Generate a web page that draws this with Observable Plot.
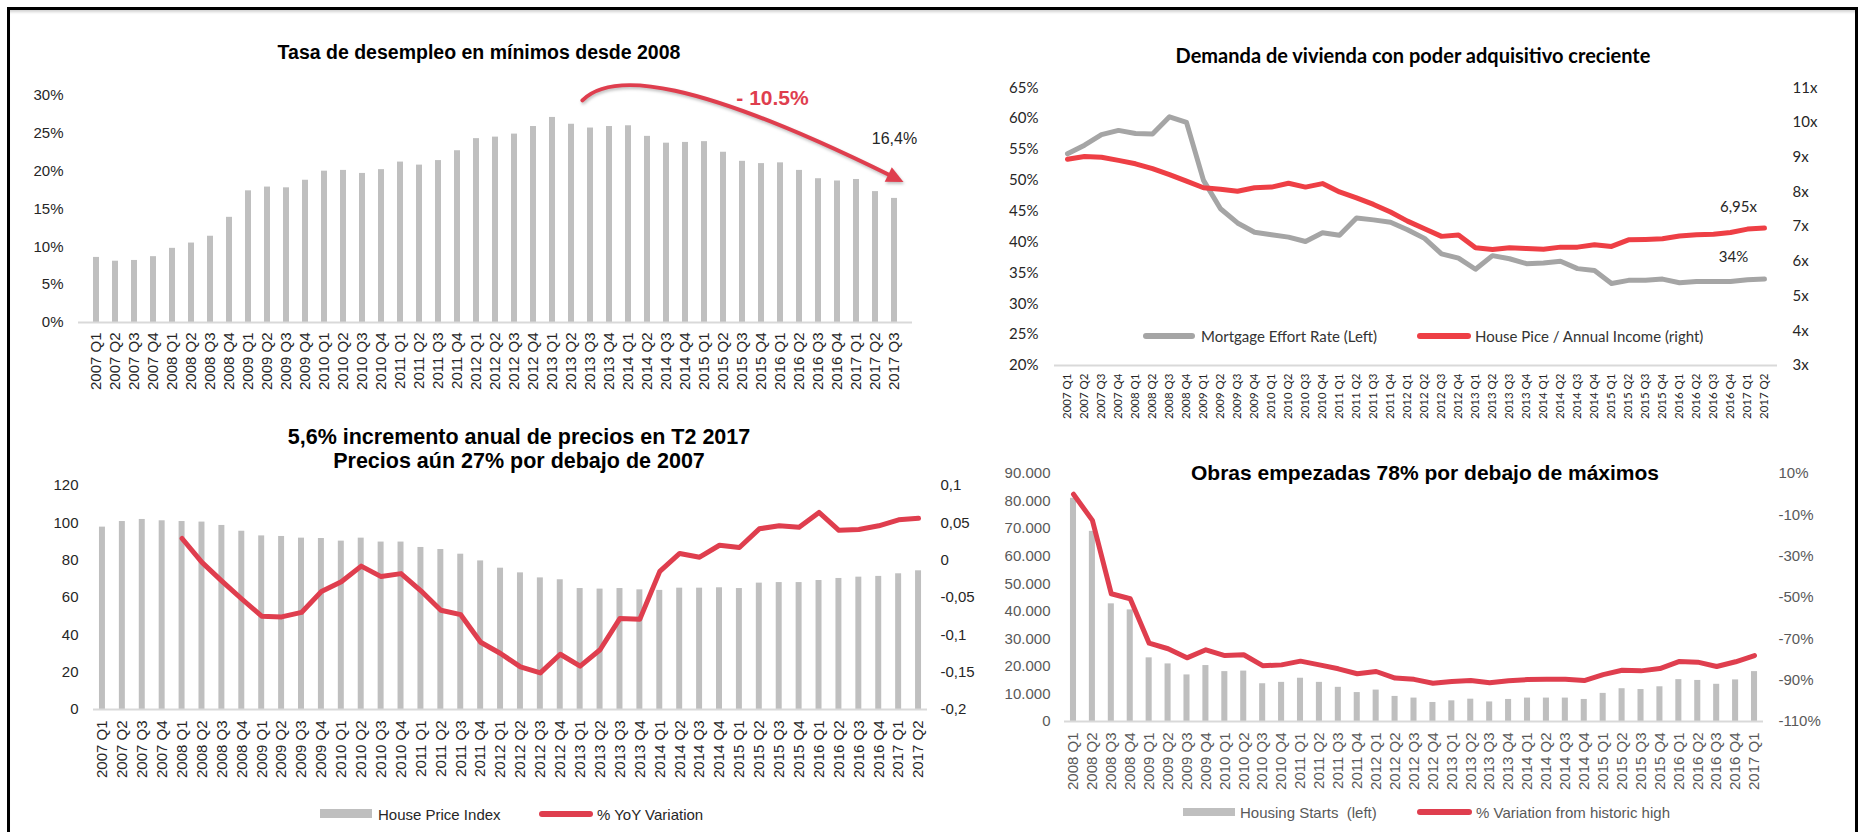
<!DOCTYPE html>
<html><head><meta charset="utf-8">
<script src="https://cdn.jsdelivr.net/npm/d3@7"></script>
<script src="https://cdn.jsdelivr.net/npm/@observablehq/plot@0.6"></script>
<style>
html,body{margin:0;padding:0;background:#fff;}
body{width:1862px;height:832px;position:relative;overflow:hidden;font-family:"Liberation Sans",Arial,sans-serif;}
.abs{position:absolute;}
.frame{position:absolute;left:7px;top:7px;width:1845px;height:900px;border:3px solid #000;border-bottom:none;box-shadow:inset 0 4px 3px -2px rgba(0,0,0,0.18);}
.title{position:absolute;transform:translate(-50%,-50%);font-weight:bold;white-space:nowrap;color:#000;text-align:center;}
.lg{position:absolute;white-space:pre;transform:translateY(-50%);font-size:15px;}
.sw{position:absolute;}
</style></head><body>
<div class="frame"></div>
<div id="p1" class="abs" style="left:0;top:60px;width:930px"></div>
<div id="p2" class="abs" style="left:940px;top:60px;width:900px"></div>
<div id="p3" class="abs" style="left:0;top:470px;width:990px"></div>
<div id="p4" class="abs" style="left:995px;top:460px;width:845px"></div>

<div class="title" style="left:479px;top:52px;font-size:19.5px;line-height:24px">Tasa de desempleo en mínimos desde 2008</div>
<div class="title" style="left:1413px;top:55px;font-family:Lato,sans-serif;font-size:20px;line-height:24px">Demanda de vivienda con poder adquisitivo creciente</div>
<div class="title" style="left:519px;top:449px;font-size:21.5px;line-height:24px">5,6% incremento anual de precios en T2 2017<br>Precios aún 27% por debajo de 2007</div>
<div class="title" style="left:1425px;top:473px;font-size:21px;line-height:24px">Obras empezadas 78% por debajo de máximos</div>

<!-- legend top-right -->
<div class="sw" style="left:1143px;top:333px;width:52px;height:6px;background:#A5A5A5;border-radius:3px"></div>
<div class="lg" style="left:1201px;top:336px;font-family:Lato,sans-serif;color:#333">Mortgage Effort Rate (Left)</div>
<div class="sw" style="left:1417px;top:333px;width:54px;height:6px;background:#EE3F45;border-radius:3px"></div>
<div class="lg" style="left:1475px;top:336px;font-family:Lato,sans-serif;color:#333">House Pice / Annual Income (right)</div>
<!-- legend bottom-left -->
<div class="sw" style="left:320px;top:809px;width:52px;height:9px;background:#BFBFBF"></div>
<div class="lg" style="left:378px;top:814px;color:#262626">House Price Index</div>
<div class="sw" style="left:539px;top:811px;width:54px;height:6px;background:#DF3E4E;border-radius:3px"></div>
<div class="lg" style="left:597px;top:814px;color:#262626">% YoY Variation</div>
<!-- legend bottom-right -->
<div class="sw" style="left:1183px;top:808px;width:52px;height:8px;background:#BFBFBF"></div>
<div class="lg" style="left:1240px;top:812px;color:#595959">Housing Starts  (left)</div>
<div class="sw" style="left:1417px;top:809px;width:55px;height:6px;background:#DF3E4E;border-radius:3px"></div>
<div class="lg" style="left:1476px;top:812px;color:#595959">% Variation from historic high</div>

<script>
function quarterRange(y0, q0, y1, q1) {
  const out = [];
  for (let y = y0; y <= y1; y++) for (let q = 1; q <= 4; q++) {
    if (y === y0 && q < q0) continue;
    if (y === y1 && q > q1) continue;
    out.push(`${y} Q${q}`);
  }
  return out;
}

// ---- Chart 1: unemployment rate (%) ----
const unemploymentQuarters = quarterRange(2007, 1, 2017, 3);
const unemploymentRate = [8.6,8.1,8.2,8.7, 9.8,10.5,11.4,13.9, 17.4,17.9,17.8,18.8, 20.0,20.1,19.7,20.2, 21.2,20.8,21.4,22.7, 24.3,24.5,24.9,25.9, 27.1,26.2,25.7,25.9, 26.0,24.6,23.7,23.8, 23.9,22.5,21.3,21.0, 21.1,20.1,19.0,18.7, 18.9,17.3,16.4];
const unemploymentTicks = [0,5,10,15,20,25,30];
const changeLabel = [{quarter: "2015 Q4", value: 29.7, text: "- 10.5%"}];
// arrow anchors: fractional quarter index, value (%)
const arrowCurve = [{i: 25.6, v: 29.3}, {i: 27.2, v: 33.3}, {i: 31.6, v: 32.0}, {i: 42.5, v: 18.5}];

// ---- Chart 2: mortgage effort & price/income ----
const effortQuarters = quarterRange(2007, 1, 2017, 2);
const mortgageEffort = [54.3,55.7,57.4,58.1,57.6,57.5,60.3,59.4,50.0,45.4, 43.1,41.6,41.2,40.8,40.1,41.5,41.1,43.9,43.6,43.2, 42.0,40.6,38.1,37.4,35.6,37.8,37.3,36.5,36.6,36.9, 35.7,35.4,33.3,33.8,33.8,34.0,33.4,33.6,33.6,33.6, 33.9,34.0];
const priceToIncome = [8.94,9.02,9.00,8.91,8.81,8.67,8.50,8.31,8.12,8.08, 8.02,8.12,8.14,8.25,8.14,8.24,8.00,7.83,7.64,7.42, 7.16,6.94,6.72,6.76,6.39,6.34,6.39,6.37,6.35,6.41, 6.41,6.48,6.43,6.62,6.63,6.65,6.73,6.77,6.78,6.83, 6.93,6.96];
const effortTicks = [20,25,30,35,40,45,50,55,60,65];
const ratioTicks = [3,4,5,6,7,8,9,10,11];

// ---- Chart 3: house price index & YoY ----
const hpiQuarters = quarterRange(2007, 1, 2017, 2);
const housePriceIndex = [97.7,100.7,101.8,101.1, 100.7,100.4,98.6,95.5, 93.0,92.7,91.8,91.6, 90.2,91.8,89.7,89.7, 86.8,85.7,83.2,79.6, 75.7,73.2,70.5,69.5, 64.8,64.5,64.8,64.1, 63.8,65.0,65.0,65.2, 64.8,67.7,68.0,68.0, 69.1,70.2,70.9,71.3, 72.7,74.3];
const yoyQuarters = quarterRange(2008, 1, 2017, 2);
const hpiYoY = [0.029,-0.003,-0.028,-0.052, -0.075,-0.076,-0.070,-0.042, -0.029,-0.008,-0.022,-0.018, -0.041,-0.067,-0.073,-0.110, -0.125,-0.143,-0.151,-0.126, -0.142,-0.120,-0.078,-0.079, -0.015,0.009,0.004,0.020, 0.017,0.042,0.046,0.044, 0.064,0.040,0.041,0.046, 0.054,0.056];
const hpiTicks = [0,20,40,60,80,100,120];
const yoyTicks = [-0.2,-0.15,-0.1,-0.05,0,0.05,0.1];

// ---- Chart 4: housing starts ----
const startsQuarters = quarterRange(2008, 1, 2017, 1);
const housingStarts = [81000,69000,42700,40500, 23100,20900,16900,20300, 18100,18300,13700,14200, 15700,14200,12400,10500, 11400,9100,8500,6900, 7500,8100,7100,8000, 8500,8500,8500,8000, 10200,11900,11600,12600, 15200,14900,13500,15100, 18100];
const fromHigh = [0,-12.7,-48.2,-50.6, -72.1,-74.8,-79.2,-75.3, -78.1,-77.7,-83.0,-82.6, -80.8,-82.6,-84.5,-86.9, -85.8,-89.0,-89.6,-91.5, -90.6,-90.2,-91.3,-90.3, -89.7,-89.6,-89.6,-90.2, -87.3,-85.2,-85.5,-84.4, -81.0,-81.3,-83.4,-81.1, -78.1];
const startsTicks = [0,10000,20000,30000,40000,50000,60000,70000,80000,90000];
const highTicks = [-110,-90,-70,-50,-30,-10,10];

const ARIAL = '"Liberation Sans", Arial, sans-serif';
const RED = "#DF3E4E";

// ================= Chart 1 =================
const unemploymentData = unemploymentQuarters.map((q, i) => ({quarter: q, rate: unemploymentRate[i]}));
const lastUnemp = unemploymentData[unemploymentData.length - 1];

function unemploymentArrow(index, scales) {
  const sx = scales.x, sy = scales.y;
  const step = sx.step(), x0 = sx(unemploymentQuarters[0]) + sx.bandwidth() / 2;
  const P = arrowCurve.map(d => [x0 + d.i * step, sy(d.v)]);
  const [p0, p1, p2, p3] = P;
  const ang = Math.atan2(p3[1] - p2[1], p3[0] - p2[0]);
  const headLen = 17, headHalf = 8;
  const bx = p3[0] - Math.cos(ang) * headLen, by = p3[1] - Math.sin(ang) * headLen;
  const nx = -Math.sin(ang), ny = Math.cos(ang);
  const ns = "http://www.w3.org/2000/svg";
  const g = document.createElementNS(ns, "g");
  g.setAttribute("style", "filter: drop-shadow(1px 2px 1.5px rgba(0,0,0,0.25))");
  const path = document.createElementNS(ns, "path");
  const ex = bx + Math.cos(ang) * 3, ey = by + Math.sin(ang) * 3;
  path.setAttribute("d", `M${p0[0]},${p0[1]}C${p1[0]},${p1[1]} ${p2[0]},${p2[1]} ${ex},${ey}`);
  path.setAttribute("fill", "none");
  path.setAttribute("stroke", RED);
  path.setAttribute("stroke-width", 4);
  path.setAttribute("stroke-linecap", "round");
  const head = document.createElementNS(ns, "polygon");
  head.setAttribute("points", `${p3[0]},${p3[1]} ${bx + nx * headHalf},${by + ny * headHalf} ${bx - nx * headHalf},${by - ny * headHalf}`);
  head.setAttribute("fill", RED);
  g.appendChild(path);
  g.appendChild(head);
  return g;
}

const chart1 = Plot.plot({
  width: 930, height: 340,
  marginLeft: 78, marginRight: 18, marginTop: 35, marginBottom: 78,
  style: {background: "transparent", fontFamily: ARIAL, fontSize: "15px", color: "#262626", overflow: "visible"},
  x: {type: "band", domain: unemploymentQuarters, paddingInner: 0.69, paddingOuter: 0.36, label: null},
  y: {domain: [0, 30], label: null},
  marks: [
    Plot.barY(unemploymentData, {x: "quarter", y: "rate", fill: "#BFBFBF"}),
    Plot.ruleY([0], {stroke: "#D9D9D9", strokeWidth: 2}),
    Plot.axisY(unemploymentTicks, {tickSize: 0, tickPadding: 15, tickFormat: d => d + "%", label: null}),
    Plot.axisX({tickRotate: -90, tickSize: 0, tickPadding: 10, label: null}),
    unemploymentArrow,
    Plot.text(changeLabel, {x: "quarter", y: "value", text: "text", dx: 11, fill: RED, fontWeight: "bold", fontSize: 21}),
    Plot.text([lastUnemp], {x: "quarter", y: "rate", text: d => d3.format(".1f")(d.rate).replace(".", ",") + "%", dy: -60, fontSize: 16, fill: "#262626"})
  ]
});
document.getElementById("p1").appendChild(chart1);

// ================= Chart 2 =================
const toLeft2 = r => 20 + (r - 3) * 45 / 8;
const effortData = effortQuarters.map((q, i) => ({quarter: q, effort: mortgageEffort[i], ratio: priceToIncome[i]}));
const lastEffort = effortData[effortData.length - 1];
const chart2 = Plot.plot({
  width: 900, height: 370,
  marginLeft: 114, marginRight: 63, marginTop: 27.3, marginBottom: 65,
  style: {background: "transparent", fontFamily: "Lato, sans-serif", fontSize: "15px", color: "#262626", overflow: "visible"},
  x: {type: "point", domain: effortQuarters, padding: 0.52, label: null},
  y: {domain: [20, 65], label: null},
  marks: [
    Plot.ruleY([20], {stroke: "#D9D9D9", strokeWidth: 2}),
    Plot.line(effortData, {x: "quarter", y: "effort", stroke: "#A5A5A5", strokeWidth: 5, strokeLinejoin: "round", strokeLinecap: "round"}),
    Plot.line(effortData, {x: "quarter", y: d => toLeft2(d.ratio), stroke: "#EE3F45", strokeWidth: 5, strokeLinejoin: "round", strokeLinecap: "round"}),
    Plot.axisY(effortTicks, {tickSize: 0, tickPadding: 16, tickFormat: d => d + "%", label: null}),
    Plot.axisY(ratioTicks.map(toLeft2), {anchor: "right", tickSize: 0, tickPadding: 15, tickFormat: d => Math.round((d - 20) * 8 / 45 + 3) + "x", label: null}),
    Plot.axisX({tickRotate: -90, tickSize: 0, tickPadding: 8, fontSize: 11.5, label: null}),
    Plot.text([lastEffort], {x: "quarter", y: d => toLeft2(d.ratio), text: () => "6,95x", dx: -26, dy: -21, fontSize: 15}),
    Plot.text([lastEffort], {x: "quarter", y: "effort", text: d => d3.format(".0f")(d.effort) + "%", dx: -31, dy: -22, fontSize: 15})
  ]
});
document.getElementById("p2").appendChild(chart2);

// ================= Chart 3 =================
const toLeft3 = v => (v + 0.2) / 0.3 * 120;
const hpiData = hpiQuarters.map((q, i) => ({quarter: q, hpi: housePriceIndex[i]}));
const yoyData = yoyQuarters.map((q, i) => ({quarter: q, yoy: hpiYoY[i]}));
const chart3 = Plot.plot({
  width: 990, height: 330,
  marginLeft: 93, marginRight: 63, marginTop: 15, marginBottom: 91,
  style: {background: "transparent", fontFamily: ARIAL, fontSize: "15px", color: "#262626", overflow: "visible"},
  x: {type: "band", domain: hpiQuarters, paddingInner: 0.70, paddingOuter: 0.30, label: null},
  y: {domain: [0, 120], label: null},
  marks: [
    Plot.barY(hpiData, {x: "quarter", y: "hpi", fill: "#BFBFBF"}),
    Plot.ruleY([0], {stroke: "#D9D9D9", strokeWidth: 2}),
    Plot.line(yoyData, {x: "quarter", y: d => toLeft3(d.yoy), stroke: RED, strokeWidth: 5, strokeLinejoin: "round", strokeLinecap: "round"}),
    Plot.axisY(hpiTicks, {tickSize: 0, tickPadding: 15, label: null}),
    Plot.axisY(yoyTicks.map(toLeft3), {anchor: "right", tickSize: 0, tickPadding: 13, label: null,
      tickFormat: d => String(Math.round((d / 120 * 0.3 - 0.2) * 100) / 100 + 0).replace(".", ",")}),
    Plot.axisX({tickRotate: -90, tickSize: 0, tickPadding: 11, label: null})
  ]
});
document.getElementById("p3").appendChild(chart3);

// ================= Chart 4 =================
const toLeft4 = p => (p + 110) / 120 * 90000;
const startsData = startsQuarters.map((q, i) => ({quarter: q, starts: housingStarts[i], high: fromHigh[i]}));
const chart4 = Plot.plot({
  width: 845, height: 340,
  marginLeft: 69, marginRight: 77, marginTop: 13, marginBottom: 79,
  style: {background: "transparent", fontFamily: ARIAL, fontSize: "15px", color: "#595959", overflow: "visible"},
  x: {type: "band", domain: startsQuarters, paddingInner: 0.68, paddingOuter: 0.315, label: null},
  y: {domain: [0, 90000], label: null},
  marks: [
    Plot.barY(startsData, {x: "quarter", y: "starts", fill: "#BFBFBF"}),
    Plot.ruleY([0], {stroke: "#D9D9D9", strokeWidth: 2}),
    Plot.line(startsData, {x: "quarter", y: d => toLeft4(d.high), stroke: RED, strokeWidth: 5, strokeLinejoin: "round", strokeLinecap: "round"}),
    Plot.axisY(startsTicks, {tickSize: 0, tickPadding: 14, label: null, tickFormat: d => d3.format(",")(d).replace(/,/g, ".")}),
    Plot.axisY(highTicks.map(toLeft4), {anchor: "right", tickSize: 0, tickPadding: 15, label: null,
      tickFormat: d => Math.round(d / 90000 * 120 - 110) + "%"}),
    Plot.axisX({tickRotate: -90, tickSize: 0, tickPadding: 11, label: null})
  ]
});
document.getElementById("p4").appendChild(chart4);
</script>
</body></html>
